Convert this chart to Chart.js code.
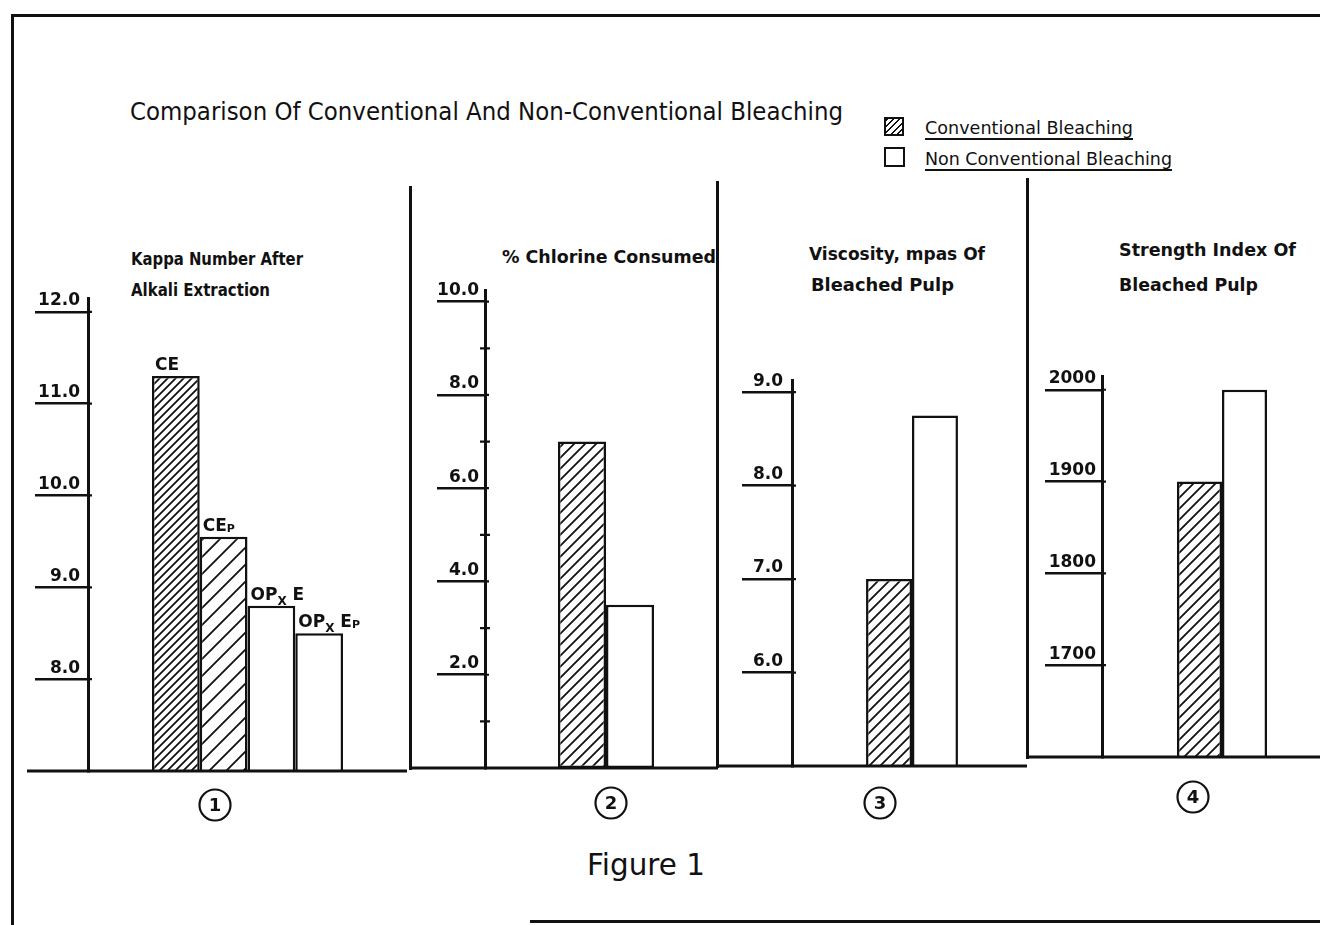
<!DOCTYPE html>
<html><head><meta charset="utf-8">
<script src="https://cdn.jsdelivr.net/npm/chart.js@4.4.1/dist/chart.umd.min.js"></script>
<style>
html,body{margin:0;padding:0;background:#fff;width:1320px;height:925px;overflow:hidden;position:relative;}
.ln{position:absolute;background:#111;}
.tx{position:absolute;white-space:nowrap;color:#111;transform-origin:0 50%;line-height:1;}
.box{position:absolute;border:2px solid #111;box-sizing:border-box;}
canvas{position:absolute;}
</style></head><body>
<script>
// ---------------- DATA ----------------
const panelLabels = ['1', '2', '3', '4'];

const kappaCategories = ['CE', 'CEp', 'OPxE', 'OPxEp'];
const kappaValues = [11.3, 9.55, 8.8, 8.5];
const kappaTickValues = [8, 9, 10, 11, 12];
const kappaTickLabels = ['8.0', '9.0', '10.0', '11.0', '12.0'];
const kappaLabelParts = [
  [['CE', 17, 0]],
  [['CE', 17, 0], ['P', 11, 1]],
  [['OP', 17, 0], ['X', 12, 5], [' E', 17, 0]],
  [['OP', 17, 0], ['X', 12, 5], [' E', 17, 0], ['P', 11, 1]]
];

const seriesNames = ['Conventional Bleaching', 'Non Conventional Bleaching'];

const chlorineConventional = [7.0];
const chlorineNonConventional = [3.5];
const chlorineTickValues = [2, 4, 6, 8, 10];
const chlorineTickLabels = ['2.0', '4.0', '6.0', '8.0', '10.0'];
const chlorineMinorTicks = [1, 3, 5, 7, 9];

const viscosityConventional = [7.0];
const viscosityNonConventional = [8.75];
const viscosityTickValues = [6, 7, 8, 9];
const viscosityTickLabels = ['6.0', '7.0', '8.0', '9.0'];

const strengthConventional = [1900];
const strengthNonConventional = [2000];
const strengthTickValues = [1700, 1800, 1900, 2000];
const strengthTickLabels = ['1700', '1800', '1900', '2000'];

const panelTitles = [
  ['Kappa Number After', 'Alkali Extraction'],
  ['% Chlorine Consumed'],
  ['Viscosity, mpas Of', 'Bleached Pulp'],
  ['Strength Index Of', 'Bleached Pulp']
];
const mainTitle = 'Comparison Of Conventional And Non-Conventional Bleaching';
const figureCaption = 'Figure 1';

// ---------------- HELPERS ----------------
const FONT = '"DejaVu Sans", "Liberation Sans", sans-serif';
Chart.defaults.font.family = FONT;

function hatch(spacing, lw) {
  const c = document.createElement('canvas');
  c.width = c.height = spacing;
  const g = c.getContext('2d');
  g.fillStyle = '#fff'; g.fillRect(0, 0, spacing, spacing);
  g.strokeStyle = '#111'; g.lineWidth = lw;
  g.beginPath();
  g.moveTo(-2, spacing + 2); g.lineTo(spacing + 2, -2);
  g.moveTo(-2, 2); g.lineTo(2, -2);
  g.moveTo(spacing - 2, spacing + 2); g.lineTo(spacing + 2, spacing - 2);
  g.stroke();
  return g.createPattern(c, 'repeat');
}

function line(x, y, w, h) {
  const d = document.createElement('div');
  d.className = 'ln';
  Object.assign(d.style, {left: x + 'px', top: y + 'px', width: w + 'px', height: h + 'px'});
  document.body.appendChild(d);
}

function placeText(txt, x0, x1, yc, size, weight, underline) {
  const d = document.createElement('div');
  d.className = 'tx';
  d.textContent = txt;
  d.style.font = `${weight} ${size}px ${FONT}`;
  d.style.left = x0 + 'px';
  d.style.top = (yc - 0.5 * size) + 'px';
  if (underline) { d.style.textDecoration = 'underline'; d.style.textDecorationThickness = '2px'; d.style.textUnderlineOffset = '4px'; }
  document.body.appendChild(d);
  const w = d.getBoundingClientRect().width;
  d.style.transform = `scaleX(${(x1 - x0) / w})`;
}

// ---------------- FRAME & DECORATION ----------------
line(11, 14, 1309, 3);      // top border
line(11, 15, 3, 910);       // left border
line(530, 920, 790, 3);     // bottom border
line(409, 186, 3, 584);     // panel separators
line(716, 181, 3, 587);
line(1026, 178, 3, 581);

placeText(mainTitle, 130, 843, 110, 24, 'normal', false);
placeText(panelTitles[0][0], 131, 303, 257, 17, 'bold');
placeText(panelTitles[0][1], 131, 270, 288, 17, 'bold');
placeText(panelTitles[1][0], 502, 716, 255, 17, 'bold');
placeText(panelTitles[2][0], 809, 985, 252, 17, 'bold');
placeText(panelTitles[2][1], 811, 954, 283, 17, 'bold');
placeText(panelTitles[3][0], 1119, 1296, 248, 17, 'bold');
placeText(panelTitles[3][1], 1119, 1258, 283, 17, 'bold');
placeText(figureCaption, 587, 705, 862, 30, 'normal');

// legend
const lb1 = document.createElement('div'); lb1.className = 'box';
Object.assign(lb1.style, {left: '884px', top: '117px', width: '20px', height: '19px',
  background: 'repeating-linear-gradient(135deg, #111 0 1.6px, #fff 1.6px 4.5px)'});
document.body.appendChild(lb1);
const lb2 = document.createElement('div'); lb2.className = 'box';
Object.assign(lb2.style, {left: '884px', top: '147px', width: '21px', height: '20px', background: '#fff'});
document.body.appendChild(lb2);
placeText(seriesNames[0], 925, 1133, 126, 17, 'normal', true);
placeText(seriesNames[1], 925, 1172, 157, 17, 'normal', true);

// ---------------- CHARTS ----------------
const AXW = 90, PADT = 30, XH = 70;
const conv = (s) => hatch(s, 1.8);

const panels = [
  {label: panelLabels[0], min: 7, max: 12.15, base: 771, ppu: 91.8, axisX: 88, rightX: 407,
   tickLen: 53, labelGap: 8, cat: 0.599, panelL: 27, panelR: 411, numDx: -32.5, numDy: 34,
   tickValues: kappaTickValues, tickLabels: kappaTickLabels, minor: [], barLabels: kappaLabelParts,
   datasets: kappaCategories.map((c, i) => ({label: c, data: [kappaValues[i]],
     backgroundColor: [conv(8), conv(17), '#fff', '#fff'][i]}))},
  {label: panelLabels[1], min: 0, max: 10.25, base: 768, ppu: 46.6, axisX: 485, rightX: 727,
   tickLen: 48, labelGap: 6, cat: 0.397, panelL: 411, panelR: 718, numDx: 5, numDy: 35,
   tickValues: chlorineTickValues, tickLabels: chlorineTickLabels, minor: chlorineMinorTicks,
   datasets: [{label: seriesNames[0], data: chlorineConventional, backgroundColor: conv(11)},
              {label: seriesNames[1], data: chlorineNonConventional, backgroundColor: '#fff'}]},
  {label: panelLabels[2], min: 5, max: 9.13, base: 766, ppu: 93.5, axisX: 792, rightX: 1032,
   tickLen: 50, labelGap: 9, cat: 0.383, panelL: 718, panelR: 1027, numDx: -32, numDy: 37,
   tickValues: viscosityTickValues, tickLabels: viscosityTickLabels, minor: [],
   datasets: [{label: seriesNames[0], data: viscosityConventional, backgroundColor: conv(11)},
              {label: seriesNames[1], data: viscosityNonConventional, backgroundColor: '#fff'}]},
  {label: panelLabels[3], min: 1600, max: 2015, base: 757, ppu: 0.9175, axisX: 1102, rightX: 1342,
   tickLen: 57, labelGap: 6, cat: 0.375, panelL: 1027, panelR: 1322, numDx: -29, numDy: 40,
   tickValues: strengthTickValues, tickLabels: strengthTickLabels, minor: [],
   datasets: [{label: seriesNames[0], data: strengthConventional, backgroundColor: conv(11)},
              {label: seriesNames[1], data: strengthNonConventional, backgroundColor: '#fff'}]}
];

panels.forEach((p) => {
  const topY = p.base - (p.max - p.min) * p.ppu;
  const L = p.axisX - AXW, T = topY - PADT;
  const H = Math.round(p.base - T + XH), W = Math.round(p.rightX - L);
  const cv = document.createElement('canvas');
  cv.width = W; cv.height = H;
  Object.assign(cv.style, {left: L + 'px', top: T + 'px', width: W + 'px', height: H + 'px'});
  document.body.appendChild(cv);

  const deco = {
    id: 'deco',
    afterDraw(chart) {
      const ctx = chart.ctx, ys = chart.scales.y, xs = chart.scales.x;
      const by = ys.getPixelForValue(p.min);
      const ax = chart.chartArea.left;
      ctx.save();
      ctx.strokeStyle = '#111'; ctx.fillStyle = '#111';
      // baseline
      ctx.lineWidth = 3;
      ctx.beginPath(); ctx.moveTo(p.panelL - L, by); ctx.lineTo(p.panelR - L, by); ctx.stroke();
      // tick stubs right of axis and minor ticks
      ctx.lineWidth = 2.2;
      ctx.beginPath();
      p.tickValues.forEach(v => { const py = ys.getPixelForValue(v); ctx.moveTo(ax, py); ctx.lineTo(ax + 4, py); });
      p.minor.forEach(v => { const py = ys.getPixelForValue(v); ctx.moveTo(ax - 5, py); ctx.lineTo(ax + 5, py); });
      ctx.stroke();
      // circled panel number
      const cx = xs.getPixelForTick(0) + p.numDx, cy = by + p.numDy;
      ctx.lineWidth = 2.2;
      ctx.beginPath(); ctx.arc(cx, cy, 15.5, 0, Math.PI * 2); ctx.stroke();
      ctx.font = `bold 18px ${FONT}`; ctx.textAlign = 'center'; ctx.textBaseline = 'middle';
      ctx.fillText(chart.data.labels[0], cx, cy + 1);
      // bar labels
      if (p.barLabels) {
        ctx.textAlign = 'left'; ctx.textBaseline = 'alphabetic';
        p.barLabels.forEach((parts, i) => {
          const el = chart.getDatasetMeta(i).data[0];
          let x = el.x - el.width / 2 + 3;
          const y = el.y - 6;
          parts.forEach(([t, s, dy]) => {
            ctx.font = `bold ${s}px ${FONT}`;
            ctx.fillText(t, x, y + dy);
            x += ctx.measureText(t).width;
          });
        });
      }
      ctx.restore();
    }
  };

  new Chart(cv, {
    type: 'bar',
    data: {labels: [p.label], datasets: p.datasets.map(d => Object.assign({
      borderColor: '#111', borderWidth: 2.5, borderSkipped: false,
      barPercentage: 1, categoryPercentage: p.cat}, d))},
    options: {
      responsive: false, animation: false, devicePixelRatio: 1,
      layout: {padding: {left: 0, right: 0, top: PADT, bottom: 0}},
      plugins: {legend: {display: false}, tooltip: {enabled: false}, title: {display: false}},
      scales: {
        x: {type: 'category', afterFit: s => { s.height = XH; },
            ticks: {display: false}, grid: {display: false, drawTicks: false}, border: {display: false}},
        y: {type: 'linear', min: p.min, max: p.max,
            afterBuildTicks: s => { s.ticks = p.tickValues.map(v => ({value: v})); },
            afterFit: s => { s.width = AXW; },
            border: {display: true, color: '#111', width: 3},
            grid: {drawOnChartArea: false, drawTicks: true, tickLength: p.tickLen, lineWidth: 2.5, color: '#111'},
            ticks: {autoSkip: false, padding: p.labelGap - p.tickLen, labelOffset: -11, color: '#111',
                    font: {family: FONT, weight: 'bold', size: 17},
                    callback: (v) => { const i = p.tickValues.indexOf(v); return i < 0 ? '' : p.tickLabels[i]; }}}
      }
    },
    plugins: [deco]
  });
});
</script>
</body></html>
